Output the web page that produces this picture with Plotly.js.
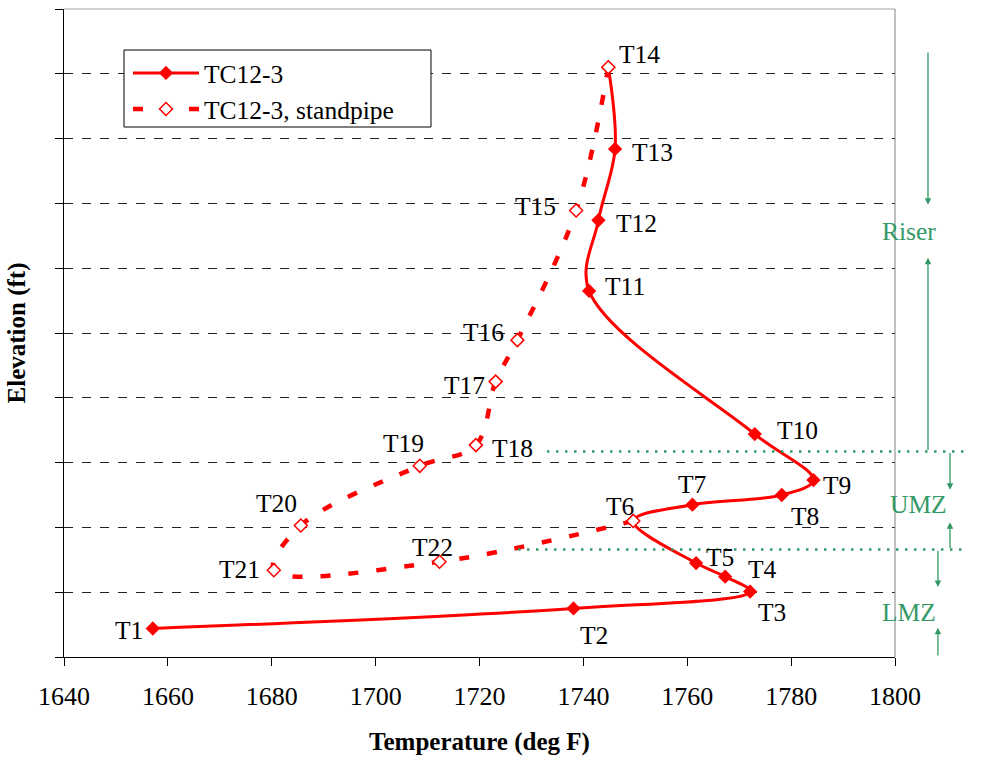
<!DOCTYPE html>
<html>
<head>
<meta charset="utf-8">
<script src="https://cdn.plot.ly/plotly-3.0.1.min.js"></script>
<style>html,body{margin:0;padding:0;background:#fff;}#chart{width:982px;height:759px;}</style>
</head>
<body>
<div id="chart"></div>
<script>
// ---- data ----
const solidName = 'TC12-3';
const solidLabels = ['T1','T2','T3','T4','T5','T6','T7','T8','T9','T10','T11','T12','T13','T14'];
const solidTemp = [1657.1, 1738.1, 1772.1, 1767.3, 1761.7, 1749.6, 1761.0, 1778.2, 1784.3, 1773.0, 1741.1, 1742.9, 1746.1, 1744.8];
const solidElev = [0.44, 0.75, 1.01, 1.24, 1.45, 2.10, 2.35, 2.50, 2.73, 3.44, 5.65, 6.74, 7.84, 9.10];

const pipeName = 'TC12-3, standpipe';
const pipeLabels = ['T14','T15','T16','T17','T18','T19','T20','T21','T22','T6'];
const pipeTemp = [1744.8, 1738.6, 1727.3, 1723.1, 1719.3, 1708.5, 1685.6, 1680.4, 1712.3, 1749.6];
const pipeElev = [9.10, 6.89, 4.89, 4.25, 3.27, 2.95, 2.03, 1.34, 1.47, 2.10];

const xTicks = [1640, 1660, 1680, 1700, 1720, 1740, 1760, 1780, 1800];

const zoneNames = ['LMZ', 'UMZ', 'Riser'];
const zoneBottom = [0, 1.66, 3.17];
const zoneTop = [1.66, 3.17, 9.35];

// ---- styles (label offsets in px: [dx, dy screen-down]) ----
const labelOffsets = {
  T1:[-24,2], T2:[20,27], T3:[22,21], T4:[37,-7], T5:[24,-6], T6:[-13,-14], T7:[0,-20],
  T8:[23,21], T9:[24,5], T10:[43,-4], T11:[36,-4], T12:[38,3], T13:[37,4], T14:[31,-13],
  T15:[-41,-4], T16:[-34,-8], T17:[-31,4], T18:[37,3], T19:[-16,-22], T20:[-24,-22],
  T21:[-34,-1], T22:[-7,-14]
};
const zoneStyle = {
  LMZ:   {labelX:1.0517, arrowX:1.0517, labelY:0.68, headUp:1.08, headDown:0.45},
  UMZ:   {labelX:1.065,  arrowX:1.0662, labelY:2.35, headUp:2.58, headDown:2.08},
  Riser: {labelX:1.0517, arrowX:1.0397, labelY:6.56, headUp:6.98, headDown:6.16}
};
const zoneLineStart = [0.5463, 0.5812];
const legendBox = {x0: 0.0722, x1: 0.4416, y0: 0.8179, y1: 0.9367};

const RED = '#ff0000', GREEN = '#339966';
const SERIF = '"Liberation Serif", "Times New Roman", serif';
const FS = 25.5;

const traces = [
  {
    x: solidTemp, y: solidElev, name: solidName, type: 'scatter', mode: 'lines+markers',
    line: {color: RED, width: 3, shape: 'spline', smoothing: 1},
    marker: {symbol: 'diamond', size: 11, color: RED, line: {width: 0}}
  },
  {
    x: pipeTemp, y: pipeElev, name: pipeName, type: 'scatter', mode: 'lines+markers',
    line: {color: RED, width: 4.5, dash: '10px,18px', shape: 'spline', smoothing: 1},
    marker: {symbol: 'diamond', size: 10, color: '#ffffff', line: {color: RED, width: 1.5}}
  }
];

const annotations = [];
function addLabels(labels, xs, ys) {
  labels.forEach((lab, i) => {
    const off = labelOffsets[lab];
    annotations.push({
      x: xs[i], y: ys[i], xref: 'x', yref: 'y', text: lab, showarrow: false,
      xshift: off[0], yshift: -off[1],
      font: {family: SERIF, size: FS, color: '#000'}
    });
  });
}
addLabels(solidLabels, solidTemp, solidElev);
addLabels(pipeLabels.slice(1, pipeLabels.length - 1), pipeTemp.slice(1, pipeTemp.length - 1), pipeElev.slice(1, pipeElev.length - 1));

const shapes = [
  {type: 'line', xref: 'paper', yref: 'paper', x0: 0, x1: 1, y0: 1, y1: 1, line: {color: '#a0a0a0', width: 1}},
  {type: 'line', xref: 'paper', yref: 'paper', x0: 1, x1: 1, y0: 0, y1: 1, line: {color: '#808080', width: 1}},
  {type: 'rect', xref: 'paper', yref: 'paper', layer: 'above', x0: legendBox.x0, x1: legendBox.x1,
   y0: legendBox.y0, y1: legendBox.y1, fillcolor: '#ffffff', opacity: 1, line: {color: '#000', width: 1}}
];
[zoneTop[0], zoneTop[1]].forEach((b, i) => {
  shapes.push({type: 'line', xref: 'paper', yref: 'y', x0: zoneLineStart[i], x1: 1.0866, y0: b, y1: b,
    line: {color: GREEN, width: 2.5, dash: '2.5px,6.5px'}});
});
zoneNames.forEach((z, i) => {
  const s = zoneStyle[z];
  annotations.push({x: s.labelX, y: s.labelY, xref: 'paper', yref: 'y', text: z, showarrow: false,
    font: {family: SERIF, size: FS, color: GREEN}});
  annotations.push({x: s.arrowX, y: s.headUp, xref: 'paper', yref: 'y', text: '', showarrow: true,
    ax: 0, ay: zoneTop[i], axref: 'pixel', ayref: 'y', arrowhead: 2, arrowsize: 1, arrowwidth: 1.3,
    arrowcolor: GREEN, standoff: 0, startstandoff: 0});
  annotations.push({x: s.arrowX, y: s.headDown, xref: 'paper', yref: 'y', text: '', showarrow: true,
    ax: 0, ay: zoneBottom[i], axref: 'pixel', ayref: 'y', arrowhead: 2, arrowsize: 1, arrowwidth: 1.3,
    arrowcolor: GREEN, standoff: 0, startstandoff: 0});
});

const layout = {
  width: 982, height: 759,
  margin: {l: 64, r: 87, t: 9, b: 102},
  paper_bgcolor: '#fff', plot_bgcolor: '#fff',
  showlegend: true,
  legend: {
    x: 0.077, y: 0.937, xanchor: 'left', yanchor: 'top',
    bgcolor: 'rgba(0,0,0,0)', borderwidth: 0,
    itemwidth: 66, tracegroupgap: 0,
    font: {family: SERIF, size: FS, color: '#000'}
  },
  xaxis: {
    range: [1640, 1800], tickvals: xTicks, ticktext: xTicks.map(String),
    showgrid: false, zeroline: false, showline: true, linecolor: '#000', linewidth: 1,
    ticks: 'outside', ticklen: 8, tickcolor: '#000', tickwidth: 1,
    tickfont: {family: SERIF, size: 26, color: '#000'},
    ticklabelstandoff: 8,
    title: {text: '<b>Temperature (deg F)</b>', font: {family: SERIF, size: 25, color: '#000'}, standoff: 22}
  },
  yaxis: {
    range: [0, 10], tick0: 0, dtick: 1, showticklabels: false,
    showgrid: true, gridcolor: '#222', griddash: 'dash', gridwidth: 1,
    zeroline: false, showline: true, linecolor: '#000', linewidth: 1,
    ticks: 'outside', ticklen: 8, tickcolor: '#000', tickwidth: 1,
    title: {text: '<b>Elevation (ft)</b>', font: {family: SERIF, size: 25, color: '#000'}, standoff: 22}
  },
  annotations: annotations,
  shapes: shapes
};

Plotly.newPlot('chart', traces, layout, {displayModeBar: false, staticPlot: true});
</script>
</body>
</html>
